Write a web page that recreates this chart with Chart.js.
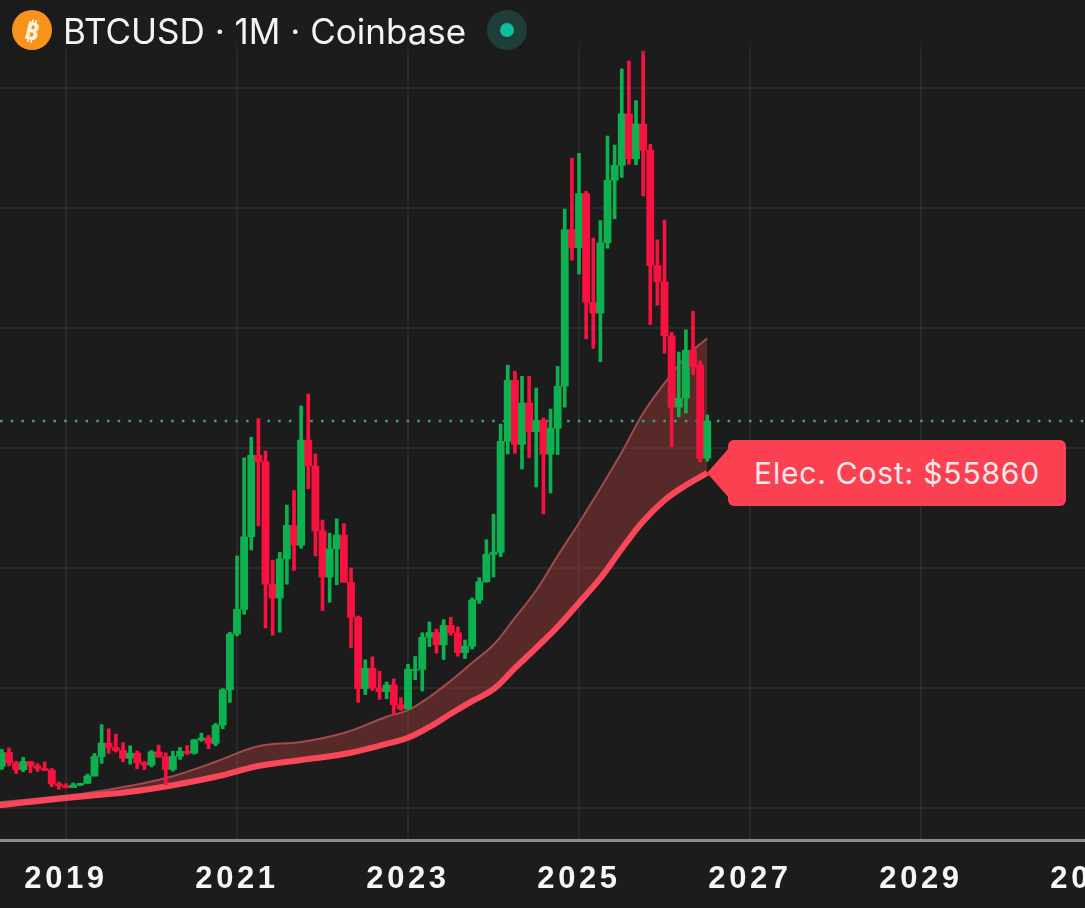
<!DOCTYPE html>
<html>
<head>
<meta charset="utf-8">
<title>BTCUSD 1M</title>
<script src="https://cdn.jsdelivr.net/npm/chart.js@4"></script>
<style>
  html, body { margin: 0; height: 100%; background: #1c1c1c; overflow: hidden; }
  canvas { position: absolute; left: 0; top: 0; }
  .topfade { position: absolute; left: 0; top: 0; width: 1085px; height: 56px; background: linear-gradient(#1c1c1c 70%, rgba(28, 28, 28, 0)); }
  .header { position: absolute; left: 63px; top: 9px; color: #f4f4f4; font: 400 35px/44px Inter, sans-serif; white-space: nowrap; }
  .coin { position: absolute; left: 12px; top: 10px; width: 40px; height: 40px; border-radius: 50%; background: #f7931a; color: #fff3de; font: 700 25px/40px "Noto Sans", sans-serif; text-align: center; }
  .coin span { display: inline-block; transform: rotate(14deg); }
  .live { position: absolute; left: 487px; top: 10px; width: 40px; height: 40px; border-radius: 50%; background: #1f3d39; }
  .live i { position: absolute; left: 13px; top: 13px; width: 14px; height: 14px; border-radius: 50%; background: #0dbf9f; }
  .callout { position: absolute; left: 728px; top: 440px; width: 338px; height: 66px; border-radius: 6px; background: #fb4052; color: #fbe9ea; font: 400 30px/66px Inter, sans-serif; letter-spacing: 0.8px; text-align: center; white-space: nowrap; }
  .callout::before { content: ""; position: absolute; left: -21px; top: 8px; border-style: solid; border-width: 25px 22px 25px 0; border-color: transparent #fb4052 transparent transparent; }
</style>
</head>
<body>
<canvas id="chart" width="1180" height="908"></canvas>
<div class="topfade"></div>
<div class="coin"><span>₿</span></div>
<div class="header">BTCUSD · 1M · Coinbase</div>
<div class="live"><i></i></div>
<div class="callout">Elec. Cost: $55860</div>

<script>
// monthly candles, first one is 2018-04
const firstYear = 2018, firstMonth = 4;
const opens = [
  6930, 9240, 7490, 6390, 7730, 7010, 6600, 6300, 4020,
  3690, 3410, 3830, 4100, 5320, 8560, 10820, 10080, 9590, 8290, 9150, 7540,
  7170, 9350, 8520, 6410, 8620, 9450, 9140, 11350, 11650, 10780, 13800, 19700,
  29000, 33100, 45200, 58800, 57700, 37300, 35000, 41500, 47100, 43800, 61300, 57000,
  46200, 38500, 43200, 45500, 37600, 31800, 19900, 23300, 20000, 19400, 20500, 17200,
  16500, 23100, 23100, 28450, 29250, 27200, 30450, 29200, 25900, 26960, 34650, 37700,
  42250, 42580, 61100, 71300, 60600, 67500, 62700, 64600, 58970, 63300, 70300, 96400,
  93400, 102400, 84300, 82500, 94200, 104600, 107100, 115700, 108200, 114000, 109600, 90400,
  87700, 78700, 66800, 68300, 76300, 73800, 58300
];
const highs = [
  9760, 10000, 7780, 8450, 7750, 7410, 7680, 6590, 4310,
  4070, 4190, 4130, 5640, 9090, 13880, 13200, 12330, 10900, 10370, 9510, 7750,
  9580, 10500, 9200, 9470, 10080, 10390, 11450, 12480, 12080, 14100, 19900, 29300,
  42000, 58350, 61800, 64900, 59500, 41300, 42600, 50500, 52900, 67000, 69000, 59000,
  47990, 45800, 48200, 47400, 40000, 32000, 24700, 25200, 22800, 21000, 21500, 18400,
  23950, 25250, 29200, 31000, 29800, 31400, 31800, 30200, 28000, 35000, 38400, 44700,
  48970, 64000, 73800, 72800, 71950, 71950, 70000, 65000, 66500, 73600, 99800, 108300,
  109100, 102800, 95000, 97900, 112000, 110500, 123200, 124500, 117900, 126200, 110600, 94700,
  98000, 79300, 76000, 79700, 82800, 74500, 65500
];
const lows = [
  6430, 7030, 5750, 6070, 5880, 6100, 6200, 3550, 3120,
  3350, 3390, 3690, 4090, 5320, 7450, 9100, 9320, 7710, 7300, 6520, 6400,
  6850, 8450, 3850, 6150, 8100, 8900, 8970, 11120, 9880, 10370, 13200, 17600,
  28700, 32300, 43000, 47000, 30000, 28800, 29300, 37300, 39600, 43300, 53200, 42000,
  32900, 34300, 37200, 37700, 26700, 17600, 18900, 19600, 18100, 18200, 15500, 16250,
  16500, 21400, 19500, 26900, 25800, 24750, 28800, 25300, 24900, 26500, 34100, 37600,
  38500, 41900, 59000, 59100, 56500, 58400, 53500, 49000, 52500, 58900, 66800, 91300,
  89000, 78200, 76600, 74400, 93300, 98200, 105100, 107300, 107200, 102000, 80600, 83800,
  75800, 60200, 65200, 65800, 72200, 57700, 57800
];
const closes = [
  9240, 7490, 6390, 7730, 7010, 6600, 6300, 4020, 3690,
  3410, 3830, 4100, 5320, 8560, 10820, 10080, 9590, 8290, 9150, 7540, 7170,
  9350, 8520, 6410, 8620, 9450, 9140, 11350, 11650, 10780, 13800, 19700, 29000,
  33100, 45200, 58800, 57700, 37300, 35000, 41500, 47100, 43800, 61300, 57000, 46200,
  38500, 43200, 45500, 37600, 31800, 19900, 23300, 20000, 19400, 20500, 17200, 16500,
  23100, 23100, 28450, 29250, 27200, 30450, 29200, 25900, 26960, 34650, 37700, 42250,
  42580, 61100, 71300, 60600, 67500, 62700, 64600, 58970, 63300, 70300, 96400, 93400,
  102400, 84300, 82500, 94200, 104600, 107100, 115700, 108200, 114000, 109600, 90400, 87700,
  78700, 66800, 68300, 76300, 73500, 58300, 64500
];

// electricity cost band, read every few months
const elecDates = [
  2018, 2018.25, 2018.75, 2019.25, 2019.75, 2020.25, 2020.75, 2021.25, 2021.75, 2022.25, 2022.75,
  2023, 2023.25, 2023.5, 2023.75, 2024, 2024.25, 2024.5, 2024.75,
  2025, 2025.25, 2025.5, 2025.75, 2026, 2026.25, 2026.5
];
const elecUpper = [
  700, 1000, 1700, 2500, 3700, 5300, 7700, 10300, 11000, 12500, 15200,
  16300, 18500, 21200, 24200, 27200, 31700, 36300, 42000,
  47500, 53300, 59300, 65800, 70800, 75200, 78300
];
const elecLower = [
  300, 500, 1300, 2000, 2700, 3800, 5200, 7000, 8000, 9000, 10700,
  11700, 13500, 15700, 17800, 19800, 23300, 26700, 30200,
  34200, 38300, 43200, 47800, 51300, 53800, 55860
];

const xTicks = [2019, 2021, 2023, 2025, 2027, 2029, 2031];
const yTicks = [0, 20000, 40000, 60000, 80000, 100000, 120000];

const UP = "#0db14f";
const DOWN = "#f7123f";
const GRID = "#2a2a2a";

const xMin = 2018.228;
const xMax = 2032.029;

const times = closes.map((c, i) => firstYear + (firstMonth - 1 + i) / 12);
const colors = closes.map((c, i) => (c >= opens[i] ? UP : DOWN));

new Chart(document.getElementById("chart"), {
  data: {
    datasets: [
      {
        type: "line",
        data: elecUpper.map((v, i) => ({ x: elecDates[i], y: v })),
        borderColor: "#a04c4e",
        borderWidth: 2,
        backgroundColor: "rgba(170, 60, 60, 0.42)",
        fill: "+1",
        pointRadius: 0,
        tension: 0.4,
        order: 5,
      },
      {
        type: "line",
        data: elecLower.map((v, i) => ({ x: elecDates[i], y: v })),
        borderColor: "#f9475a",
        borderWidth: 6,
        fill: false,
        pointRadius: 0,
        tension: 0.4,
        order: 4,
      },
      {
        // last price
        type: "line",
        data: [
          { x: xMin, y: closes[closes.length - 1] },
          { x: xMax, y: closes[closes.length - 1] },
        ],
        borderColor: "#3aa37a",
        borderWidth: 2.5,
        borderDash: [2.5, 8.2],
        pointRadius: 0,
        order: 3,
      },
      {
        // wicks
        type: "bar",
        data: closes.map((c, i) => ({ x: times[i], y: [lows[i], highs[i]] })),
        backgroundColor: colors,
        barThickness: 3,
        grouped: false,
        order: 2,
      },
      {
        // bodies
        type: "bar",
        data: closes.map((c, i) => ({ x: times[i], y: [opens[i], c] })),
        backgroundColor: colors,
        barThickness: 7.2,
        minBarLength: 1,
        grouped: false,
        order: 1,
      },
    ],
  },
  options: {
    responsive: false,
    animation: false,
    devicePixelRatio: 1,
    layout: { padding: 0 },
    plugins: { legend: { display: false }, tooltip: { enabled: false } },
    scales: {
      x: {
        type: "linear",
        offset: false,
        min: xMin,
        max: xMax,
        afterBuildTicks: (scale) => { scale.ticks = xTicks.map((v) => ({ value: v })); },
        afterFit: (scale) => { scale.height = 68; },
        grid: { color: GRID, lineWidth: 2, drawTicks: false, offset: false },
        border: { color: "#8c8c8c", width: 3 },
        ticks: {
          color: "#f6f6f6",
          padding: 21,
          maxRotation: 0,
          autoSkip: false,
          font: { family: "Liberation Sans", size: 31, weight: "bold" },
          callback: (v) => String(v),
        },
      },
      y: {
        min: -5333,
        max: 134667,
        afterBuildTicks: (scale) => { scale.ticks = yTicks.map((v) => ({ value: v })); },
        grid: { color: GRID, lineWidth: 2, drawTicks: false },
        border: { display: false },
        ticks: { display: false },
      },
    },
  },
  plugins: [
    {
      id: "tickSpacing",
      beforeDraw(chart) {
        chart.ctx.letterSpacing = "3.6px";
      },
    },
  ],
});
</script>
</body>
</html>
